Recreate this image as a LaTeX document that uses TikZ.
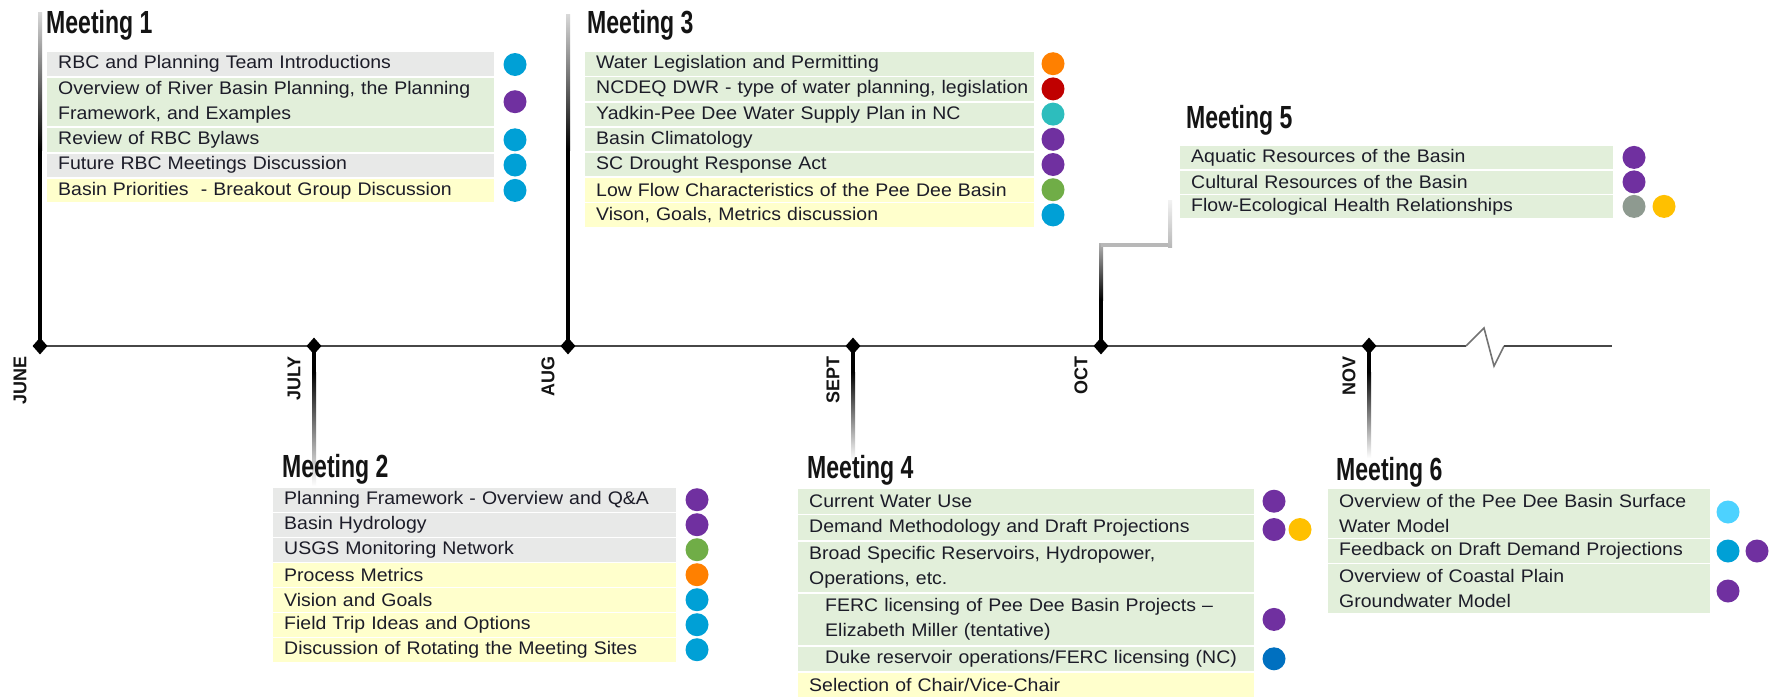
\documentclass[tikz,border=0pt]{standalone}
\usepackage{fontspec}
\usetikzlibrary{shapes.geometric,calc}

\newfontfamily\itemfont{Liberation Sans}[FakeStretch=1.07]
\newfontfamily\headfont{Liberation Sans}[FakeStretch=0.72]
\newfontfamily\monthfont{Liberation Sans}[FakeStretch=0.97]

\definecolor{rowgray}{HTML}{E8E9E8}
\definecolor{rowgreen}{HTML}{E2EFDA}
\definecolor{rowyellow}{HTML}{FFFFCC}
\definecolor{cblue}{HTML}{00A0D6}
\definecolor{cpurple}{HTML}{7030A0}
\definecolor{corange}{HTML}{FF8000}
\definecolor{cred}{HTML}{C00000}
\definecolor{cteal}{HTML}{2DBDBD}
\definecolor{cgreen}{HTML}{70AD47}
\definecolor{cgrey}{HTML}{8E9A90}
\definecolor{cgold}{HTML}{FFC000}
\definecolor{ccyan}{HTML}{4DD2FF}
\definecolor{cnavy}{HTML}{0070C0}
\definecolor{ink}{HTML}{1C1C28}

\begin{document}
\begin{tikzpicture}[x=1pt,y=-1pt,
  item/.style={anchor=north west, inner xsep=11pt, inner ysep=0pt, align=left,
    text=ink, font=\itemfont\fontsize{18.2}{25}\selectfont},
  wA/.style={text width=425pt},
  wB/.style={text width=381pt},
  wC/.style={text width=427pt},
  wD/.style={text width=434pt},
  wE/.style={text width=411pt},
  wF/.style={text width=360pt},
  dot/.style={circle, minimum size=23pt, inner sep=0pt},
  headline/.style={anchor=base west, inner sep=0pt, text=black!92,
    font=\headfont\bfseries\fontsize{32}{32}\selectfont},
  month/.style={rotate=90, anchor=east, inner sep=0pt, text=black!92,
    font=\monthfont\bfseries\fontsize{18.5}{18.5}\selectfont},
  diam/.style={diamond, fill=black, minimum width=15pt, minimum height=17pt, inner sep=0pt},
  stem/.style={line width=4pt, draw=black},
  tline/.style={line width=2.6pt, draw=black!72},
  zig/.style={line width=1.6pt, draw=black!55, line join=miter},
]
\useasboundingbox (0,0) rectangle (1787,699);
\fill[white] (0,0) rectangle (1787,699);

% positions of the months on the axis
\coordinate (pJun) at (40,346);
\coordinate (pJul) at (314,346);
\coordinate (pAug) at (568,346);
\coordinate (pSep) at (853,346);
\coordinate (pOct) at (1101,346);
\coordinate (pNov) at (1369,346);

% ---- stems rising to the meetings above the axis
\coordinate (s1a) at (40,150);  \coordinate (s1b) at (40,12);
\draw[stem] (pJun) -- (s1a);
\shade[top color=black!15, bottom color=black] ($(s1b)+(-2,0)$) rectangle ($(s1a)+(2,0)$);

\coordinate (s3a) at (568,150); \coordinate (s3b) at (568,14);
\draw[stem] (pAug) -- (s3a);
\shade[top color=black!15, bottom color=black] ($(s3b)+(-2,0)$) rectangle ($(s3a)+(2,0)$);

\coordinate (s5a) at (1101,300); \coordinate (s5b) at (1101,245);
\coordinate (s5c) at (1170,245); \coordinate (s5d) at (1170,200);
\draw[stem] (pOct) -- (s5a);
\shade[top color=black!30, bottom color=black] ($(s5b)+(-2,-2)$) rectangle ($(s5a)+(2,0)$);
\draw[stem, draw=black!28] (s5b) -- (s5c);
\shade[top color=black!5, bottom color=black!28] ($(s5d)+(-2,0)$) rectangle ($(s5c)+(2,2)$);

% ---- stems falling to the meetings below the axis
\coordinate (s2a) at (314,372); \coordinate (s2b) at (314,486);
\draw[stem] (pJul) -- (s2a);
\shade[top color=black, bottom color=white] ($(s2a)+(-2,0)$) rectangle ($(s2b)+(2,0)$);

\coordinate (s4a) at (853,372); \coordinate (s4b) at (853,460);
\draw[stem] (pSep) -- (s4a);
\shade[top color=black, bottom color=white] ($(s4a)+(-2,0)$) rectangle ($(s4b)+(2,0)$);

\coordinate (s6a) at (1369,372); \coordinate (s6b) at (1369,458);
\draw[stem] (pNov) -- (s6a);
\shade[top color=black, bottom color=white] ($(s6a)+(-2,0)$) rectangle ($(s6b)+(2,0)$);

% ---- the time axis with its break
\coordinate (tA) at (34,346);
\coordinate (z1) at (1466,346);
\coordinate (z2) at (1484,328);
\coordinate (z3) at (1494,366);
\coordinate (z4) at (1504,346);
\coordinate (tB) at (1612,346);
\draw[tline] (tA) -- (z1);
\draw[zig] (z1) -- (z2) -- (z3) -- (z4);
\draw[tline] (z4) -- (tB);

\node[diam] (dJun) at (pJun) {};
\node[diam] (dJul) at (pJul) {};
\node[diam] (dAug) at (pAug) {};
\node[diam] (dSep) at (pSep) {};
\node[diam] (dOct) at (pOct) {};
\node[diam] (dNov) at (pNov) {};

\node[month] (lJun) at ($(pJun)+(-20,10)$) {JUNE};
\node[month] (lJul) at ($(pJul)+(-20,10)$) {JULY};
\node[month] (lAug) at ($(pAug)+(-20,10)$) {AUG};
\node[month] (lSep) at ($(pSep)+(-20,10)$) {SEPT};
\node[month] (lOct) at ($(pOct)+(-20,10)$) {OCT};
\node[month] (lNov) at ($(pNov)+(-20,10)$) {NOV};

% ---- Meeting 1
\node[headline] (m1) at (46,33) {Meeting 1};
\node[item, wA, fill=rowgray,   minimum height=23.5pt] (m1r1) at (47,52)    {RBC and Planning Team Introductions};
\node[item, wA, fill=rowgreen,  minimum height=48.8pt] (m1r2) at (47,77.3)  {Overview of River Basin Planning, the Planning\\Framework, and Examples};
\node[item, wA, fill=rowgreen,  minimum height=23.5pt] (m1r3) at (47,128)   {Review of RBC Bylaws};
\node[item, wA, fill=rowgray,   minimum height=23.5pt] (m1r4) at (47,153.3) {Future RBC Meetings Discussion};
\node[item, wA, fill=rowyellow, minimum height=23.5pt] (m1r5) at (47,178.6) {Basin Priorities\ \ - Breakout Group Discussion};
\node[dot, fill=cblue]   (m1c1) at (515,64.5)  {};
\node[dot, fill=cpurple] (m1c2) at (515,101.7) {};
\node[dot, fill=cblue]   (m1c3) at (515,139.8) {};
\node[dot, fill=cblue]   (m1c4) at (515,165)   {};
\node[dot, fill=cblue]   (m1c5) at (515,190.4) {};

% ---- Meeting 3
\node[headline] (m3) at (587,33) {Meeting 3};
\node[item, wC, fill=rowgreen,  minimum height=23.4pt] (m3r1) at (585,52)    {Water Legislation and Permitting};
\node[item, wC, fill=rowgreen,  minimum height=23.4pt] (m3r2) at (585,77.2)  {\mbox{NCDEQ DWR - type of water planning, legislation}};
\node[item, wC, fill=rowgreen,  minimum height=23.4pt] (m3r3) at (585,102.4) {Yadkin-Pee Dee Water Supply Plan in NC};
\node[item, wC, fill=rowgreen,  minimum height=23.4pt] (m3r4) at (585,127.6) {Basin Climatology};
\node[item, wC, fill=rowgreen,  minimum height=23.4pt] (m3r5) at (585,152.8) {SC Drought Response Act};
\node[item, wC, fill=rowyellow, minimum height=23.4pt] (m3r6) at (585,178)   {Low Flow Characteristics of the Pee Dee Basin};
\node[item, wC, fill=rowyellow, minimum height=23.4pt] (m3r7) at (585,203.2) {Vison, Goals, Metrics discussion};
\node[dot, fill=corange] (m3c1) at (1053,63.7)  {};
\node[dot, fill=cred]    (m3c2) at (1053,88.9)  {};
\node[dot, fill=cteal]   (m3c3) at (1053,114.1) {};
\node[dot, fill=cpurple] (m3c4) at (1053,139.3) {};
\node[dot, fill=cpurple] (m3c5) at (1053,164.5) {};
\node[dot, fill=cgreen]  (m3c6) at (1053,189.7) {};
\node[dot, fill=cblue]   (m3c7) at (1053,214.9) {};

% ---- Meeting 5
\node[headline] (m5) at (1186,128) {Meeting 5};
\node[item, wE, fill=rowgreen, minimum height=22.8pt] (m5r1) at (1180,146)   {Aquatic Resources of the Basin};
\node[item, wE, fill=rowgreen, minimum height=22.8pt] (m5r2) at (1180,170.5) {Cultural Resources of the Basin};
\node[item, wE, fill=rowgreen, minimum height=22.8pt] (m5r3) at (1180,195)   {Flow-Ecological Health Relationships};
\node[dot, fill=cpurple] (m5c1) at (1634,157.4) {};
\node[dot, fill=cpurple] (m5c2) at (1634,181.9) {};
\node[dot, fill=cgrey]   (m5c3) at (1634,206.4) {};
\node[dot, fill=cgold]   (m5c4) at (1664,206.4) {};

% ---- Meeting 2
\node[headline] (m2) at (282,477) {Meeting 2};
\node[item, wB, fill=rowgray,   minimum height=23.4pt] (m2r1) at (273,488) {Planning Framework - Overview and Q\&A};
\node[item, wB, fill=rowgray,   minimum height=23.4pt] (m2r2) at (273,513) {Basin Hydrology};
\node[item, wB, fill=rowgray,   minimum height=23.4pt] (m2r3) at (273,538) {USGS Monitoring Network};
\node[item, wB, fill=rowyellow, minimum height=23.4pt] (m2r4) at (273,563) {Process Metrics};
\node[item, wB, fill=rowyellow, minimum height=23.4pt] (m2r5) at (273,588) {Vision and Goals};
\node[item, wB, fill=rowyellow, minimum height=23.4pt] (m2r6) at (273,613) {Field Trip Ideas and Options};
\node[item, wB, fill=rowyellow, minimum height=23.4pt] (m2r7) at (273,638) {Discussion of Rotating the Meeting Sites};
\node[dot, fill=cpurple] (m2c1) at (697,499.7) {};
\node[dot, fill=cpurple] (m2c2) at (697,524.7) {};
\node[dot, fill=cgreen]  (m2c3) at (697,549.7) {};
\node[dot, fill=corange] (m2c4) at (697,574.7) {};
\node[dot, fill=cblue]   (m2c5) at (697,599.7) {};
\node[dot, fill=cblue]   (m2c6) at (697,624.7) {};
\node[dot, fill=cblue]   (m2c7) at (697,649.7) {};

% ---- Meeting 4
\node[headline] (m4) at (807,478) {Meeting 4};
\node[item, wD, fill=rowgreen,  minimum height=24.5pt]  (m4r1) at (798,489)    {Current Water Use};
\node[item, wD, fill=rowgreen,  minimum height=24.5pt]  (m4r2) at (798,515.25) {Demand Methodology and Draft Projections};
\node[item, wD, fill=rowgreen,  minimum height=50.75pt] (m4r3) at (798,541.5)  {Broad Specific Reservoirs, Hydropower,\\Operations, etc.};
\node[item, wD, fill=rowgreen,  minimum height=50.75pt] (m4r4) at (798,594)    {\hspace*{16pt}FERC licensing of Pee Dee Basin Projects –\\\hspace*{16pt}Elizabeth Miller (tentative)};
\node[item, wD, fill=rowgreen,  minimum height=24.5pt]  (m4r5) at (798,646.5)  {\hspace*{16pt}\mbox{Duke reservoir operations/FERC licensing (NC)}};
\node[item, wD, fill=rowyellow, minimum height=24.5pt]  (m4r6) at (798,672.75) {Selection of Chair/Vice-Chair};
\node[dot, fill=cpurple] (m4c1) at (1274,501.2) {};
\node[dot, fill=cpurple] (m4c2) at (1274,529.5) {};
\node[dot, fill=cgold]   (m4c3) at (1300,529.5) {};
\node[dot, fill=cpurple] (m4c4) at (1274,619.4) {};
\node[dot, fill=cnavy]   (m4c5) at (1274,658.8) {};

% ---- Meeting 6
\node[headline] (m6) at (1336,480) {Meeting 6};
\node[item, wF, fill=rowgreen, minimum height=48.4pt] (m6r1) at (1328,489) {Overview of the Pee Dee Basin Surface\\Water Model};
\node[item, wF, fill=rowgreen, minimum height=23.4pt] (m6r2) at (1328,539) {Feedback on Draft Demand Projections};
\node[item, wF, fill=rowgreen, minimum height=48.4pt] (m6r3) at (1328,564) {Overview of Coastal Plain\\Groundwater Model};
\node[dot, fill=ccyan]   (m6c1) at (1728,512) {};
\node[dot, fill=cblue]   (m6c2) at (1728,551) {};
\node[dot, fill=cpurple] (m6c3) at (1757,551) {};
\node[dot, fill=cpurple] (m6c4) at (1728,591) {};
\end{tikzpicture}
\end{document}
